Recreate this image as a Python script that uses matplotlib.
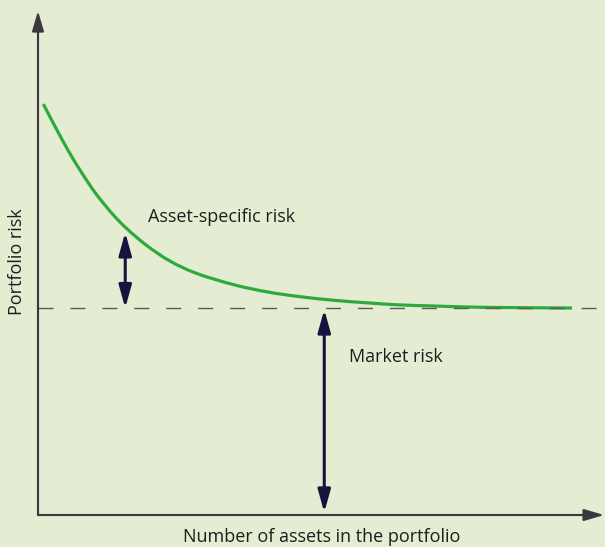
import numpy as np
import matplotlib.pyplot as plt
from matplotlib.path import Path
from matplotlib.patches import PathPatch

# Diversification: portfolio risk vs number of assets
n_assets = [0.3, 1.0, 1.75, 2.5, 3.25, 4.2, 5.0, 6.1, 7.4, 8.9, 11.0,
            12.9, 14.7, 16.6, 18.5, 20.3, 22.2, 24.1, 26.0, 30.0]
portfolio_risk = [7.94, 7.48, 7.01, 6.59, 6.21, 5.81, 5.53, 5.21, 4.91,
                  4.67, 4.45, 4.31, 4.22, 4.15, 4.10, 4.06, 4.04, 4.02, 4.01, 4.0]
market_risk = 4.0
x_label = 'Number of assets in the portfolio'
y_label = 'Portfolio risk'

bg = '#e4ecd2'
navy = '#15143f'
font = ['Open Sans', 'DejaVu Sans']


def smooth_path(xs, ys):
    # Catmull-Rom through the points, written as cubic Bezier segments
    p = np.column_stack([xs, ys])
    ext = np.vstack([p[0], p, p[-1]])
    verts = [p[0]]
    codes = [Path.MOVETO]
    for i in range(1, len(ext) - 2):
        p0, p1, p2, p3 = ext[i - 1], ext[i], ext[i + 1], ext[i + 2]
        verts += [p1 + (p2 - p0) / 6, p2 - (p3 - p1) / 6, p2]
        codes += [Path.CURVE4] * 3
    return Path(verts, codes)


fig = plt.figure(figsize=(6.05, 5.47), dpi=100, facecolor=bg)
ax = fig.add_axes([0, 0, 1, 1])
ax.set_facecolor(bg)
ax.set_xlim(-2.135, 31.85)
ax.set_ylim(-0.618, 9.952)
ax.axis('off')

# axes with arrow heads
axis_arrow = dict(arrowstyle='-|>,head_length=0.61,head_width=0.18', mutation_scale=20,
                  color='#3a3a3e', lw=1.5, shrinkA=0, shrinkB=0)
ax.annotate('', xy=(31.8, 0.0), xytext=(0, 0.0), arrowprops=axis_arrow)
ax.annotate('', xy=(0, 9.74), xytext=(0, 0.0), arrowprops=axis_arrow)
ax.plot([0, 31.0], [0, 0], color='#777777', lw=1.5, solid_capstyle='butt')
ax.plot([0, 0], [0, 9.4], color='#777777', lw=1.5, solid_capstyle='butt')

# market risk level
ax.plot([0, 31.57], [market_risk, market_risk], color='#5a5a5a', lw=1,
        dashes=(10.8, 12.2))

# risk curve
ax.add_patch(PathPatch(smooth_path(n_assets, portfolio_risk), facecolor='none',
                       edgecolor='#2eaa3c', lw=2.3, capstyle='butt'))

# double-headed arrows
dbl = dict(arrowstyle='<|-|>,head_length=0.68,head_width=0.19', mutation_scale=20,
           color=navy, lw=2.2, shrinkA=0, shrinkB=0)
ax.annotate('', xy=(4.9, 5.46), xytext=(4.9, market_risk), arrowprops=dbl)
ax.annotate('', xy=(16.08, market_risk - 0.03), xytext=(16.08, 0.05), arrowprops=dbl)

txt = dict(fontsize=13, family=font, color='#1e1e1e', va='center')
ax.text(6.18, 5.76, 'Asset-specific risk', ha='left', **txt)
ax.text(17.47, 3.05, 'Market risk', ha='left', **txt)
ax.text(-1.20, 4.90, y_label, rotation=90, ha='center', **txt)
ax.text(15.96, -0.43, x_label, ha='center', **txt)

fig.savefig('out.png', dpi=100, facecolor=bg)
